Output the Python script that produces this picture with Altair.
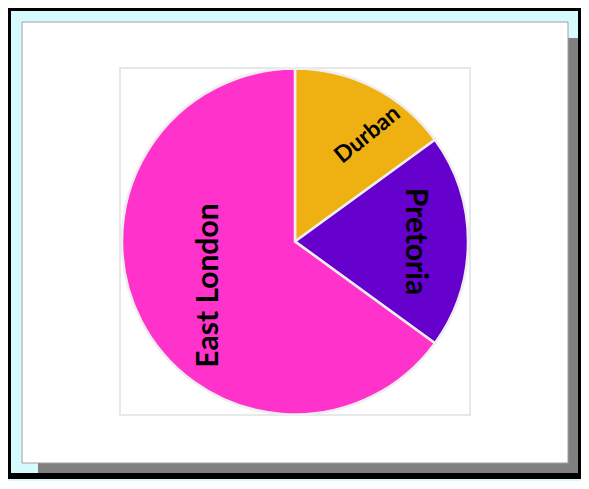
import altair as alt
import pandas as pd

# ---- data ----
cities = ["Durban", "Pretoria", "East London"]
shares = [15, 20, 65]
colors = ["#eeb111", "#6600cc", "#ff33cc"]

total = sum(shares)
df = pd.DataFrame({"city": cities, "share": shares, "idx": list(range(len(cities)))})

# ---- styles ----
W, H = 350, 347
theta_scale = alt.Scale(domain=[0, total])
label_style = {
    "Durban": dict(radius=129, angle=321, size=23, nudge=2.0),
    "Pretoria": dict(radius=120, angle=90, size=30, nudge=0.0),
    "East London": dict(radius=97, angle=270, size=30, nudge=0.0),
}


def box(x, x2, y, y2, fill, **kw):
    return alt.Chart(alt.Data(values=[{}])).mark_rect(fill=fill, **kw).encode(
        x=alt.value(x), x2=alt.value(x2), y=alt.value(y), y2=alt.value(y2)
    )


frame = [
    box(-112, 463, -60, 411, "#000000"),
    box(-109, 458, -57, 405, "#d6fbfd"),
    box(-82, 458, -30, 405, "#808080"),
    box(-98, 448, -46, 395, "#ffffff", stroke="#a0a0a0", strokeWidth=1),
    box(0, W, 0, H, "#ffffff", stroke="#e8e8e8", strokeWidth=2),
]

pie = alt.Chart(df).mark_arc(radius=173, stroke="#eeeeee", strokeWidth=2.5).encode(
    theta=alt.Theta("share:Q", stack=True, scale=theta_scale),
    color=alt.Color("city:N", scale=alt.Scale(domain=cities, range=colors), legend=None),
    order=alt.Order("idx:Q"),
)


def label(city):
    s = label_style[city]
    return (
        alt.Chart(df)
        .transform_stack(stack="share", as_=["s0", "s1"], groupby=[], sort=[alt.SortField("idx")])
        .transform_calculate(mid=f"(datum.s0 + datum.s1) / 2 + {s['nudge']}")
        .transform_filter(alt.datum.city == city)
        .mark_text(
            radius=s["radius"], angle=s["angle"], fontSize=s["size"],
            font="Lato", fontWeight="bold", color="#000000",
        )
        .encode(theta=alt.Theta("mid:Q", stack=False, scale=theta_scale), text="city:N")
    )


chart = alt.layer(*frame, pie, *[label(c) for c in cities]).properties(
    width=W,
    height=H,
    autosize=alt.AutoSizeParams(type="none"),
    padding={"left": 112, "top": 60, "right": 111, "bottom": 66},
    background="#d6fbfd",
).configure_view(stroke=None)

chart.save("out.html", embed_options={"renderer": "svg", "actions": False})
